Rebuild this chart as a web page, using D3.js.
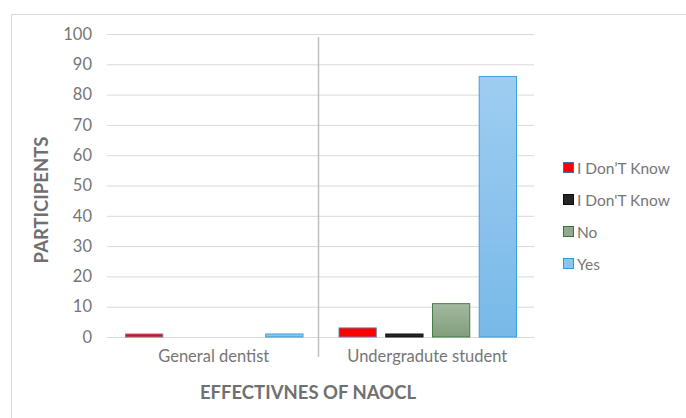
<!DOCTYPE html>
<html>
<head>
<meta charset="utf-8">
<script src="https://cdn.jsdelivr.net/npm/d3@7"></script>
<style>
  html, body { margin: 0; padding: 0; background: #fff; }
  svg { display: block; font-family: Lato, "Open Sans", sans-serif; }
</style>
</head>
<body>
<svg id="chart" width="686" height="418"></svg>
<script>
// Survey responses on the effectiveness of NaOCl
const categories = ["General dentist", "Undergradute student"];
const seriesNames = ["I Don\u2019T Know", "I Don'T Know", "No", "Yes"];
const dontKnowA = [1, 3];
const dontKnowB = [0, 1];
const noValues = [0, 11];
const yesValues = [1, 86];
const yTicks = [0, 10, 20, 30, 40, 50, 60, 70, 80, 90, 100];

const seriesValues = [dontKnowA, dontKnowB, noValues, yesValues];

const svg = d3.select("#chart");
const plot = { left: 107, right: 534, top: 34, bottom: 337 };
const textGray = "#767676";

// Outer chart frame
svg.append("rect")
  .attr("x", 11.5).attr("y", 14.5)
  .attr("width", 700).attr("height", 440)
  .attr("fill", "#fff").attr("stroke", "#d9d9d9").attr("stroke-width", 1);

// Gradients for the shaded series
const defs = svg.append("defs");
function grad(id, c1, c2) {
  const g = defs.append("linearGradient").attr("id", id)
    .attr("x1", 0).attr("y1", 0).attr("x2", 0).attr("y2", 1);
  g.append("stop").attr("offset", "0%").attr("stop-color", c1);
  g.append("stop").attr("offset", "100%").attr("stop-color", c2);
}
grad("gNo", "#a3b8a0", "#7f9f7c");
grad("gYes", "#9fcdf1", "#78b9e8");

const styles = [
  { fill: "#ff0000", stroke: "#5b87b0" },
  { fill: "#262626", stroke: "#0d0d0d" },
  { fill: "url(#gNo)", stroke: "#38753a" },
  { fill: "url(#gYes)", stroke: "#2f9bd8" }
];
const legendSwatch = [
  { fill: "#ff0000", stroke: "#41719c" },
  { fill: "#262626", stroke: "#0d0d0d" },
  { fill: "#8faa8c", stroke: "#38753a" },
  { fill: "#8cc4ee", stroke: "#2f9bd8" }
];

const x0 = d3.scaleBand().domain(categories).range([plot.left, plot.right]).padding(0);
const x1 = d3.scaleBand().domain(d3.range(seriesNames.length))
  .range([18, x0.bandwidth() - 17]).paddingInner(0.18).paddingOuter(0);
const y = d3.scaleLinear().domain([0, 100]).range([plot.bottom, plot.top]);

// Gridlines
svg.append("g")
  .attr("transform", `translate(${plot.left},0)`)
  .call(d3.axisLeft(y).tickValues(yTicks).tickSize(-(plot.right - plot.left)).tickFormat(""))
  .call(g => g.select(".domain").remove())
  .call(g => g.selectAll("line").attr("stroke", "#d9d9d9").attr("stroke-width", 1));

// Y tick labels
svg.append("g")
  .attr("transform", `translate(${plot.left - 15},0)`)
  .call(d3.axisLeft(y).tickValues(yTicks).tickSize(0).tickPadding(0))
  .call(g => g.select(".domain").remove())
  .call(g => g.selectAll("text")
    .attr("fill", textGray).attr("font-size", 16.5)
    .attr("font-family", "Lato, 'Open Sans', sans-serif"));

// Category divider
svg.append("line")
  .attr("x1", x0(categories[1]) - 2).attr("x2", x0(categories[1]) - 2)
  .attr("y1", 37).attr("y2", 357)
  .attr("stroke", "#bfbfbf").attr("stroke-width", 1.5);

// Bars
const groups = svg.append("g").selectAll("g")
  .data(categories).join("g")
  .attr("transform", d => `translate(${x0(d)},0)`);

groups.selectAll("rect")
  .data((c, ci) => seriesValues.map((vals, si) => ({ si, v: vals[ci] })).filter(d => d.v > 0))
  .join("rect")
  .attr("x", d => x1(d.si) + 0.5)
  .attr("y", d => y(d.v))
  .attr("width", x1.bandwidth() - 1)
  .attr("height", d => y(0) - y(d.v))
  .attr("fill", d => styles[d.si].fill)
  .attr("stroke", d => styles[d.si].stroke)
  .attr("stroke-width", 0.9);

// Category labels
svg.append("g")
  .attr("transform", `translate(0,${plot.bottom + 13})`)
  .call(d3.axisBottom(x0).tickSize(0).tickPadding(0))
  .call(g => g.select(".domain").remove())
  .call(g => g.selectAll("text")
    .attr("fill", textGray).attr("font-size", 16.5)
    .attr("font-family", "Lato, 'Open Sans', sans-serif"));

// Axis titles
svg.append("text")
  .attr("x", 308).attr("y", 399)
  .attr("text-anchor", "middle")
  .attr("font-size", 18.5).attr("font-weight", "bold").attr("fill", "#707070")
  .text("EFFECTIVNES OF NAOCL");

svg.append("text")
  .attr("transform", "translate(48,200) rotate(-90)")
  .attr("text-anchor", "middle")
  .attr("font-size", 18.5).attr("font-weight", "bold").attr("fill", "#707070")
  .text("PARTICIPENTS");

// Legend
const legend = svg.append("g").selectAll("g")
  .data(seriesNames).join("g")
  .attr("transform", (d, i) => `translate(563,${168 + i * 32})`);
legend.append("rect")
  .attr("x", 0.5).attr("y", -5.5).attr("width", 10).attr("height", 10)
  .attr("fill", (d, i) => legendSwatch[i].fill)
  .attr("stroke", (d, i) => legendSwatch[i].stroke);
legend.append("text")
  .attr("x", 14).attr("y", 5.5)
  .attr("font-size", 15.5).attr("fill", textGray)
  .text(d => d);
</script>
</body>
</html>
